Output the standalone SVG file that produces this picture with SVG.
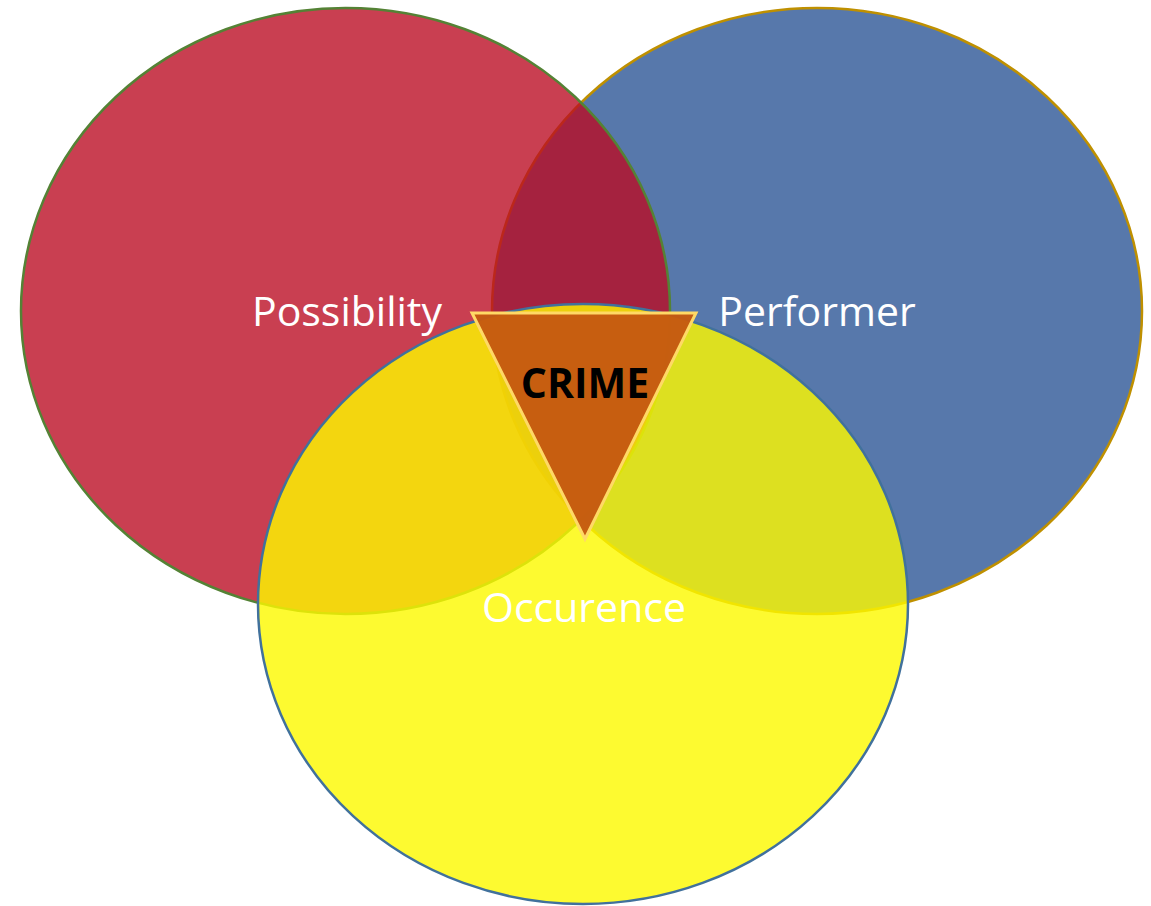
<svg xmlns="http://www.w3.org/2000/svg" width="1151" height="906" viewBox="0 0 1151 906">
<style>
.lbl{font-family:"Open Sans","Liberation Sans",sans-serif;font-size:41px;fill:#ffffff;text-anchor:middle}
.crime{font-family:"Open Sans","Liberation Sans",sans-serif;font-size:41px;font-weight:bold;fill:#000000;text-anchor:middle}
</style>
<rect width="1151" height="906" fill="#ffffff"/>
<g id="performer">
<ellipse cx="817" cy="311" rx="325" ry="303" fill="#5778AB" stroke="#BF9000" stroke-width="2.5"/>
</g>
<g id="possibility">
<ellipse cx="345.5" cy="311" rx="324.5" ry="303" fill="#BA0B22" fill-opacity="0.79" stroke="#548235" stroke-width="2.5"/>
</g>
<g id="occurence">
<ellipse cx="583" cy="604" rx="325" ry="300" fill="#FDF900" fill-opacity="0.81" stroke="#41719C" stroke-width="2.5"/>
</g>
<g id="connectors"></g>
<g id="crime">
<polygon points="472,313 696,313 585,539" fill="#C55A11" fill-opacity="0.97" stroke="#FFD966" stroke-width="3" stroke-linejoin="miter"/>
<text class="crime" x="585" y="398">CRIME</text>
</g>
<g id="labels">
<text class="lbl" x="347" y="326">Possibility</text>
<text class="lbl" x="817" y="326">Performer</text>
<text class="lbl" x="584" y="622">Occurence</text>
</g>
</svg>
